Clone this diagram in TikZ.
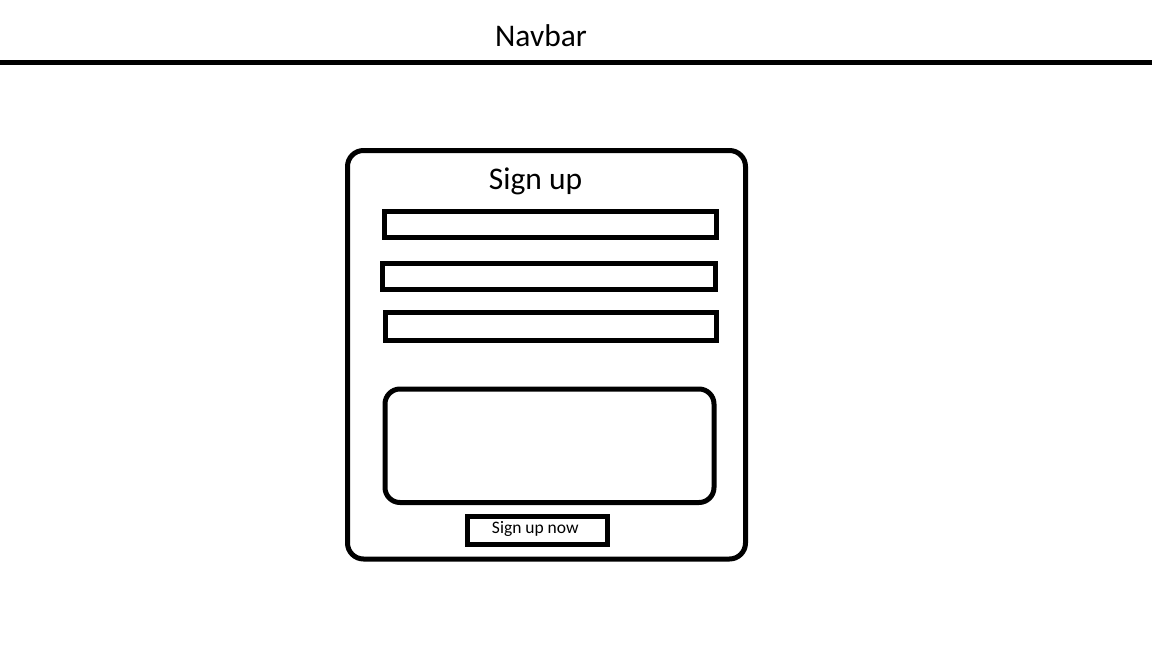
\documentclass[tikz,border=0pt]{standalone}
\usepackage{fontspec}
\setmainfont{Carlito}
\begin{document}
\begin{tikzpicture}[x=1pt,y=-1pt,
  box/.style={draw=black,line width=5pt,inner sep=0pt,outer sep=0pt,fill=none},
  field/.style={box},
  rbox/.style={box,rounded corners=16pt},
  bigtxt/.style={font=\fontsize{31.5}{36}\selectfont,anchor=base,inner sep=0pt},
  smalltxt/.style={font=\fontsize{17.5}{20}\selectfont,anchor=base,inner sep=0pt}]
\useasboundingbox[fill=white] (0,0) rectangle (1152,648);
% navbar
\coordinate (navL) at (0,62.5);
\coordinate (navR) at (1152,62.5);
\draw[line width=5pt] (navL) -- (navR);
\node[bigtxt] (navbar) at (541,46.7) {Navbar};
% card
\node[rbox,minimum width=398pt,minimum height=408.5pt] (card) at (546.5,354.75) {};
\node[bigtxt] (title) at (535.5,189.3) {Sign up};
\node[field,minimum width=332pt,minimum height=26.5pt] (f1) at (550,224.25) {};
\node[field,minimum width=332.5pt,minimum height=25.5pt] (f2) at (548.75,276.25) {};
\node[field,minimum width=331.5pt,minimum height=28.2pt] (f3) at (550.75,326.6) {};
\node[rbox,rounded corners=15pt,minimum width=329pt,minimum height=113.5pt] (area) at (549.5,445.75) {};
\node[box,minimum width=139.5pt,minimum height=28pt] (btn) at (537.25,530) {};
\node[smalltxt] (btntxt) at (535.3,533.3) {Sign up now};
\end{tikzpicture}
\end{document}
